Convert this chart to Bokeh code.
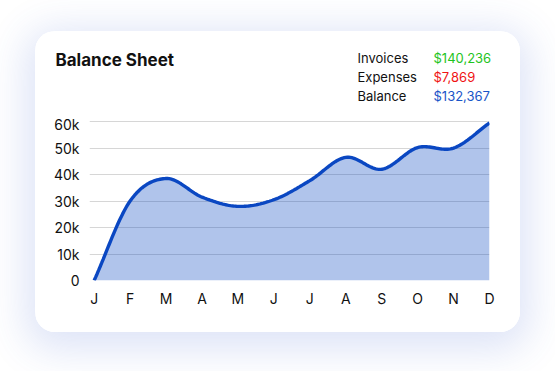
import numpy as np
from bokeh.plotting import figure
from bokeh.layouts import column, row
from bokeh.models import FixedTicker, ColumnDataSource
from bokeh.core.properties import value
from bokeh.embed import file_html
from bokeh.resources import INLINE

# ---- data ----
months = ["J", "F", "M", "A", "M", "J", "J", "A", "S", "O", "N", "D"]
balance = [0, 30000, 38500, 31500, 28000, 30500, 37700, 46500, 42000, 50200, 50000, 59500]
y_ticks = [0, 10000, 20000, 30000, 40000, 50000, 60000]
y_tick_labels = ["0", "10k", "20k", "30k", "40k", "50k", "60k"]
title_text = "Balance Sheet"
summary_names = ["Invoices", "Expenses", "Balance"]
summary_values = ["$140,236", "$7,869", "$132,367"]
summary_colors = ["#1ec41e", "#f01414", "#1a55c8"]

FONT = "Inter"
LINE = "#0a47c2"
CARD_W = 485

# ---- header (title + summary) ----
head = figure(width=CARD_W, height=84, output_backend="svg", toolbar_location=None,
              x_range=(0, CARD_W), y_range=(84, 0), min_border=0,
              background_fill_color="white", border_fill_color="white")
head.outline_line_color = None
head.axis.visible = False
head.grid.visible = False
head.text(x=[20], y=[28], text=[title_text], text_font=value(FONT), text_font_size="17px",
          text_font_style="bold", text_color="#111111", text_baseline="middle")
rows = [26, 45, 64]
head.text(x=[322] * 3, y=rows, text=summary_names, text_font=value(FONT),
          text_font_size="13px", text_color="#111111", text_baseline="middle")
head.text(x=[398] * 3, y=rows, text=summary_values, text_font=value(FONT),
          text_font_size="13px", text_color=summary_colors, text_baseline="middle")

# ---- smooth (Catmull-Rom) rendering of the monthly series, for drawing only ----
xs = np.arange(len(balance), dtype=float)
ys = np.array(balance, dtype=float)
px = np.concatenate([[2 * xs[0] - xs[1]], xs, [2 * xs[-1] - xs[-2]]])
py = np.concatenate([[2 * ys[0] - ys[1]], ys, [2 * ys[-1] - ys[-2]]])
sx, sy = [], []
for i in range(1, len(px) - 2):
    t = np.linspace(0, 1, 24, endpoint=(i == len(px) - 3))
    t2, t3 = t * t, t * t * t
    for arr_p, out in ((px, sx), (py, sy)):
        p0, p1, p2, p3 = arr_p[i - 1], arr_p[i], arr_p[i + 1], arr_p[i + 2]
        out.extend(0.5 * ((2 * p1) + (-p0 + p2) * t + (2 * p0 - 5 * p1 + 4 * p2 - p3) * t2
                          + (-p0 + 3 * p1 - 3 * p2 + p3) * t3))
curve = ColumnDataSource(dict(x=sx, y=sy))
area = ColumnDataSource(dict(x=[sx[0]] + sx + [sx[-1]], y=[0] + sy + [0]))

# ---- chart ----
p = figure(width=CARD_W, height=217, output_backend="svg", toolbar_location=None,
           x_range=(-0.13, 11.0), y_range=(0, 62300),
           min_border_left=54, min_border_right=31, min_border_top=0, min_border_bottom=52,
           background_fill_color="white", border_fill_color="white")
p.outline_line_color = None

p.patch("x", "y", source=area, fill_color=LINE, fill_alpha=0.32, line_color=None)
p.line("x", "y", source=curve, line_color=LINE, line_width=3.4)

p.xgrid.grid_line_color = None
p.ygrid.grid_line_color = "#d6d6d6"
p.ygrid.grid_line_width = 1

p.yaxis.ticker = FixedTicker(ticks=y_ticks)
p.yaxis.major_label_overrides = {t: l for t, l in zip(y_ticks, y_tick_labels)}
p.xaxis.ticker = FixedTicker(ticks=list(range(len(months))))
p.xaxis.major_label_overrides = {i: m for i, m in enumerate(months)}
for ax in (p.xaxis, p.yaxis):
    ax.axis_line_color = None
    ax.major_tick_line_color = None
    ax.minor_tick_line_color = None
    ax.major_label_text_font = FONT
    ax.major_label_text_font_size = "14px"
    ax.major_label_text_color = "#111111"
p.yaxis.major_label_standoff = 4
p.xaxis.major_label_standoff = 3

card = column(row(head), row(p), spacing=0,
              styles={"margin-left": "35px", "margin-top": "31px", "border-radius": "20px",
                      "overflow": "hidden", "background-color": "white",
                      "box-shadow": "0px 8px 38px 10px rgba(60, 95, 205, 0.17)"})

open("out.html", "w").write(file_html(card, INLINE))
